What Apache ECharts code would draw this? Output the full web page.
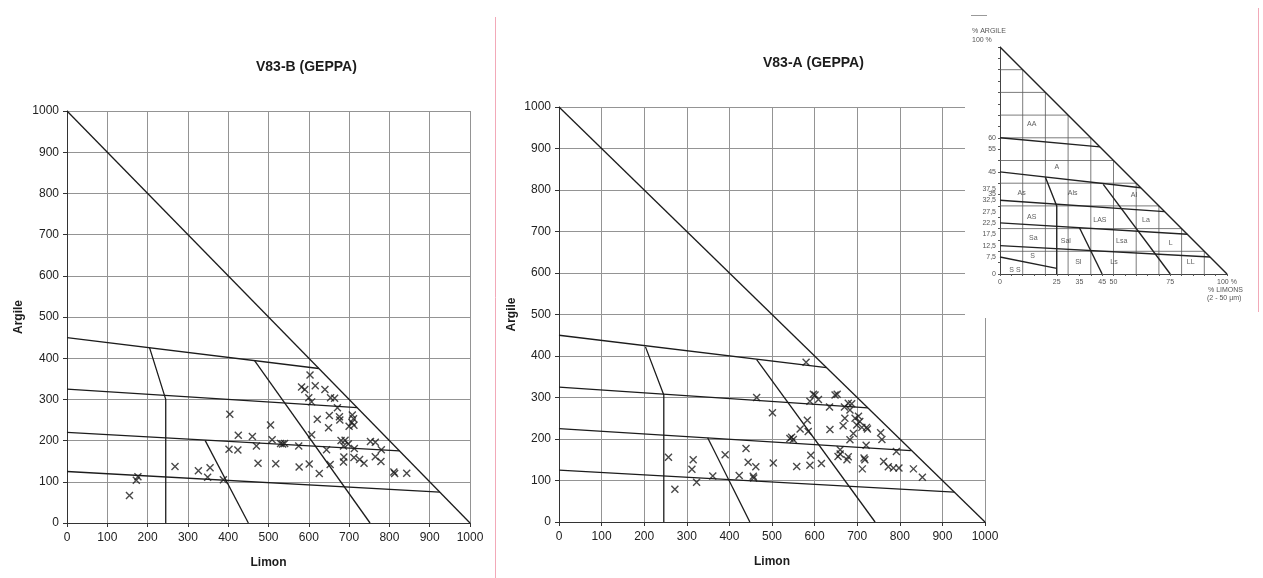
<!DOCTYPE html>
<html>
<head>
<meta charset="utf-8">
<script src="https://cdn.jsdelivr.net/npm/echarts@6/dist/echarts.min.js"></script>
<style>
  html, body { margin: 0; padding: 0; background: #fff; }
  #chart { width: 1263px; height: 578px; }
</style>
</head>
<body>
<div id="chart"></div>
<script>
// ---- Data -------------------------------------------------------------
// Samples: [limon (‰), argile (‰)]
const samplesV83B = [
  [155,67],[172,104],[176,112],[268,137],[326,127],[355,134],[349,111],[388,105],
  [404,264],[402,179],[424,177],[425,213],[460,210],[470,187],[474,145],
  [505,238],[509,202],[518,144],[530,193],[535,192],[540,193],[575,187],[576,136],
  [603,359],[582,330],[590,324],[616,333],[640,324],[600,304],[607,294],[654,304],[664,303],
  [671,280],[621,252],[651,261],[676,258],[677,250],[649,231],[607,214],[644,178],
  [601,143],[626,120],[653,142],
  [708,262],[711,253],[707,244],[712,237],[700,235],
  [680,200],[690,201],[686,187],[698,192],[713,181],
  [687,160],[686,148],[712,159],[726,154],[737,145],
  [753,198],[765,196],[780,178],[765,161],[779,149],
  [811,124],[813,120],[843,121]
];

const samplesV83A = [
  [257,156],[272,79],[315,150],[312,127],[323,96],[361,111],[390,162],[423,112],
  [439,177],[444,144],[462,133],[456,110],[457,106],[464,300],[501,263],[503,142],
  [580,385],[597,308],[601,306],[609,295],[589,291],[635,277],[648,306],[653,308],
  [670,277],[679,286],[687,285],[683,270],
  [583,245],[585,218],[566,224],[546,204],[550,199],[542,201],[636,223],
  [671,250],[667,232],[695,250],[703,255],[706,242],[699,234],[711,228],[722,228],[724,224],
  [691,213],[683,198],[721,185],[755,215],[758,199],[792,170],
  [660,174],[655,158],[660,164],[676,150],[679,157],[716,154],[718,150],[712,128],
  [762,146],[773,133],[785,130],[798,130],[832,128],[853,108],
  [591,161],[589,137],[616,141],[558,134]
];

// GEPPA class boundaries drawn on each diagram (limon ‰, argile ‰)
const geppaV83B = [
  [[0,1000],[1000,0]],
  [[0,450],[625,375]],
  [[0,325],[720,280]],
  [[0,220],[825,175]],
  [[0,125],[925,75]],
  [[205,425],[245,300],[245,0]],
  [[343,200],[450,0]],
  [[465,395],[752,0]]
];

const geppaV83A = [
  [[0,1000],[1000,0]],
  [[0,450],[628,372]],
  [[0,325],[725,275]],
  [[0,225],[826,172]],
  [[0,125],[928,72]],
  [[203,422],[246,306],[246,0]],
  [[349,203],[448,0]],
  [[464,391],[742,0]]
];

const axisMin = 0;
const axisMax = 1000;
const axisStep = 100;

// Reference GEPPA triangle (percent)
const triangleGridSteps = [10,20,30,40,50,60,70,80,90];
const triangleBounds = [
  [[0,100],[100,0]],
  [[0,60],[44,56]],
  [[0,45],[62,38]],
  [[0,32.5],[72.5,27.5]],
  [[0,22.5],[82.5,17.5]],
  [[0,12.5],[92.5,7.5]],
  [[0,7.5],[25,2.5]],
  [[20,42.6],[25,30],[25,0]],
  [[35,20.4],[45,0]],
  [[45.5,39.5],[75,0]]
];
const triangleZones = [
  ['AA',14,66],['A',25,47],['As',9.5,35.5],['Als',32,35.5],['Al',59,34.8],
  ['AS',14,25.2],['LAS',44,23.8],['La',64.3,23.8],
  ['Sa',14.7,15.7],['Sal',29,14.7],['Lsa',53.6,14.7],['L',75.2,13.8],
  ['S',14.4,7.9],['Sl',34.5,5.4],['Ls',50.2,5.4],['LL',84,5.4],['S S',6.6,1.8]
];
const triangleArgileTicks = [0,7.5,12.5,17.5,22.5,27.5,32.5,35,37.5,45,55,60];
const triangleLimonTicks = [0,25,35,45,50,75,100];
const triangleMinorTicks = [0,5,10,15,20,25,30,35,40,45,50,55,60,65,70,75,80,85,90,95,100];

// ---- Styling helpers ---------------------------------------------------
const FONT = '"Liberation Sans", Arial, Helvetica, sans-serif';
const INK = '#1c1c1c';
const GRIDGREY = '#949494';
const CROSS = 'path://M0,0L10,10M10,0L0,10';

function mainXAxis(gridIndex) {
  return {
    gridIndex, type: 'value', min: axisMin, max: axisMax, interval: axisStep,
    name: 'Limon', nameLocation: 'middle', nameGap: 34,
    nameTextStyle: { fontFamily: FONT, fontWeight: 'bold', fontSize: 12, color: INK },
    axisLine: { show: true, onZero: false, lineStyle: { color: '#333', width: 1 } },
    axisTick: { show: true, length: 4, lineStyle: { color: '#333' } },
    axisLabel: { fontFamily: FONT, fontSize: 12, color: '#222', margin: 9,
                 showMinLabel: true, showMaxLabel: true, formatter: v => String(v) },
    splitLine: { show: true, lineStyle: { color: GRIDGREY, width: 1 } }
  };
}
function mainYAxis(gridIndex, gap) {
  return {
    gridIndex, type: 'value', min: axisMin, max: axisMax, interval: axisStep,
    name: 'Argile', nameLocation: 'middle', nameGap: gap, nameRotate: 90,
    nameTextStyle: { fontFamily: FONT, fontWeight: 'bold', fontSize: 12, color: INK },
    axisLine: { show: true, onZero: false, lineStyle: { color: '#333', width: 1 } },
    axisTick: { show: true, length: 4, lineStyle: { color: '#333' } },
    axisLabel: { fontFamily: FONT, fontSize: 12, color: '#222', margin: 8,
                 showMinLabel: true, showMaxLabel: true, formatter: v => String(v) },
    splitLine: { show: true, lineStyle: { color: GRIDGREY, width: 1 } }
  };
}

function polylineSeries(lines, axisIndex, style, z) {
  return lines.map(pts => ({
    type: 'line', xAxisIndex: axisIndex, yAxisIndex: axisIndex,
    data: pts, symbol: 'none', silent: true, animation: false,
    lineStyle: style, z
  }));
}

function sampleSeries(data, axisIndex) {
  return {
    type: 'scatter', xAxisIndex: axisIndex, yAxisIndex: axisIndex,
    data, symbol: CROSS, symbolSize: 7, silent: true, z: 4,
    itemStyle: { color: 'rgba(0,0,0,0)', borderColor: INK, borderWidth: 1.4 }
  };
}

// Triangle grid lines clipped to the hypotenuse
const triangleGrid = [];
triangleGridSteps.forEach(k => {
  triangleGrid.push([[0, k], [100 - k, k]]);
  triangleGrid.push([[k, 0], [k, 100 - k]]);
});

const insetAxisText = { fontFamily: FONT, fontSize: 7, color: '#555' };

const option = {
  animation: false,
  backgroundColor: '#fff',
  title: [
    { text: 'V83-B (GEPPA)', left: 256, top: 60, padding: 0,
      textStyle: { fontFamily: FONT, fontSize: 14, fontWeight: 'bold', color: INK } },
    { text: 'V83-A (GEPPA)', left: 763, top: 56, padding: 0,
      textStyle: { fontFamily: FONT, fontSize: 14, fontWeight: 'bold', color: INK } }
  ],
  grid: [
    { left: 67, top: 111, width: 403, height: 412, outerBoundsMode: 'none' },
    { left: 559, top: 107, width: 426, height: 415, outerBoundsMode: 'none' },
    { left: 1000, top: 47, width: 227, height: 227, outerBoundsMode: 'none', z: 20 }
  ],
  xAxis: [
    mainXAxis(0),
    mainXAxis(1),
    {
      gridIndex: 2, type: 'value', min: 0, max: 100, z: 20,
      axisLine: { show: true, onZero: false, lineStyle: { color: '#444', width: 1 } },
      axisTick: { show: true, length: 2, customValues: triangleMinorTicks, lineStyle: { color: '#555' } },
      axisLabel: Object.assign({ margin: 5, customValues: triangleLimonTicks,
        formatter: v => (v === 100 ? '100 %' : String(v)) }, insetAxisText),
      splitLine: { show: false }
    }
  ],
  yAxis: [
    mainYAxis(0, 42),
    mainYAxis(1, 41),
    {
      gridIndex: 2, type: 'value', min: 0, max: 100, z: 20,
      axisLine: { show: true, onZero: false, lineStyle: { color: '#444', width: 1 } },
      axisTick: { show: true, length: 2, customValues: triangleMinorTicks, lineStyle: { color: '#555' } },
      axisLabel: Object.assign({ margin: 4, customValues: triangleArgileTicks,
        formatter: v => String(v).replace('.', ',') }, insetAxisText),
      splitLine: { show: false }
    }
  ],
  graphic: [
    // white card holding the reference triangle
    { type: 'rect', z: 10, shape: { x: 965, y: 6, width: 294, height: 312 },
      style: { fill: '#fff' }, silent: true },
    { type: 'line', z: 30, shape: { x1: 495.5, y1: 17, x2: 495.5, y2: 578 },
      style: { stroke: '#f2a9b8', lineWidth: 1 }, silent: true },
    { type: 'line', z: 30, shape: { x1: 1258.5, y1: 8, x2: 1258.5, y2: 312 },
      style: { stroke: '#f2a9b8', lineWidth: 1 }, silent: true },
    { type: 'line', z: 30, shape: { x1: 971, y1: 15.5, x2: 987, y2: 15.5 },
      style: { stroke: '#999', lineWidth: 1 }, silent: true },
    { type: 'text', z: 30, left: 972, top: 28, silent: true,
      style: { text: '% ARGILE', font: '7px ' + FONT, fill: '#555' } },
    { type: 'text', z: 30, left: 972, top: 37, silent: true,
      style: { text: '100 %', font: '7px ' + FONT, fill: '#555' } },
    { type: 'text', z: 30, left: 1208, top: 287, silent: true,
      style: { text: '% LIMONS', font: '7px ' + FONT, fill: '#555' } },
    { type: 'text', z: 30, left: 1207, top: 295, silent: true,
      style: { text: '(2 - 50 µm)', font: '7px ' + FONT, fill: '#555' } }
  ],
  series: [
    ...polylineSeries(geppaV83B, 0, { color: INK, width: 1.3 }, 3),
    ...polylineSeries(geppaV83A, 1, { color: INK, width: 1.3 }, 3),
    sampleSeries(samplesV83B, 0),
    sampleSeries(samplesV83A, 1),
    ...polylineSeries(triangleGrid, 2, { color: '#5a5a5a', width: 0.8 }, 21),
    ...polylineSeries(triangleBounds, 2, { color: '#222', width: 1.4 }, 22),
    {
      type: 'line', xAxisIndex: 2, yAxisIndex: 2, data: [], z: 22, silent: true,
      markLine: {
        silent: true, symbol: ['none', 'arrow'], symbolSize: 5, label: { show: false },
        lineStyle: { color: '#333', width: 0.8, type: 'solid' },
        data: [[{ coord: [3, 35] }, { coord: [47, 35] }]]
      }
    },
    {
      type: 'scatter', xAxisIndex: 2, yAxisIndex: 2, z: 23, silent: true,
      symbolSize: 0,
      data: triangleZones.map(d => ({ name: d[0], value: [d[1], d[2]] })),
      label: { show: true, position: 'inside', formatter: p => p.name,
               fontFamily: FONT, fontSize: 7, color: '#333' }
    }
  ]
};

const chart = echarts.init(document.getElementById('chart'), null, { renderer: 'canvas' });
chart.setOption(option);
</script>
</body>
</html>
